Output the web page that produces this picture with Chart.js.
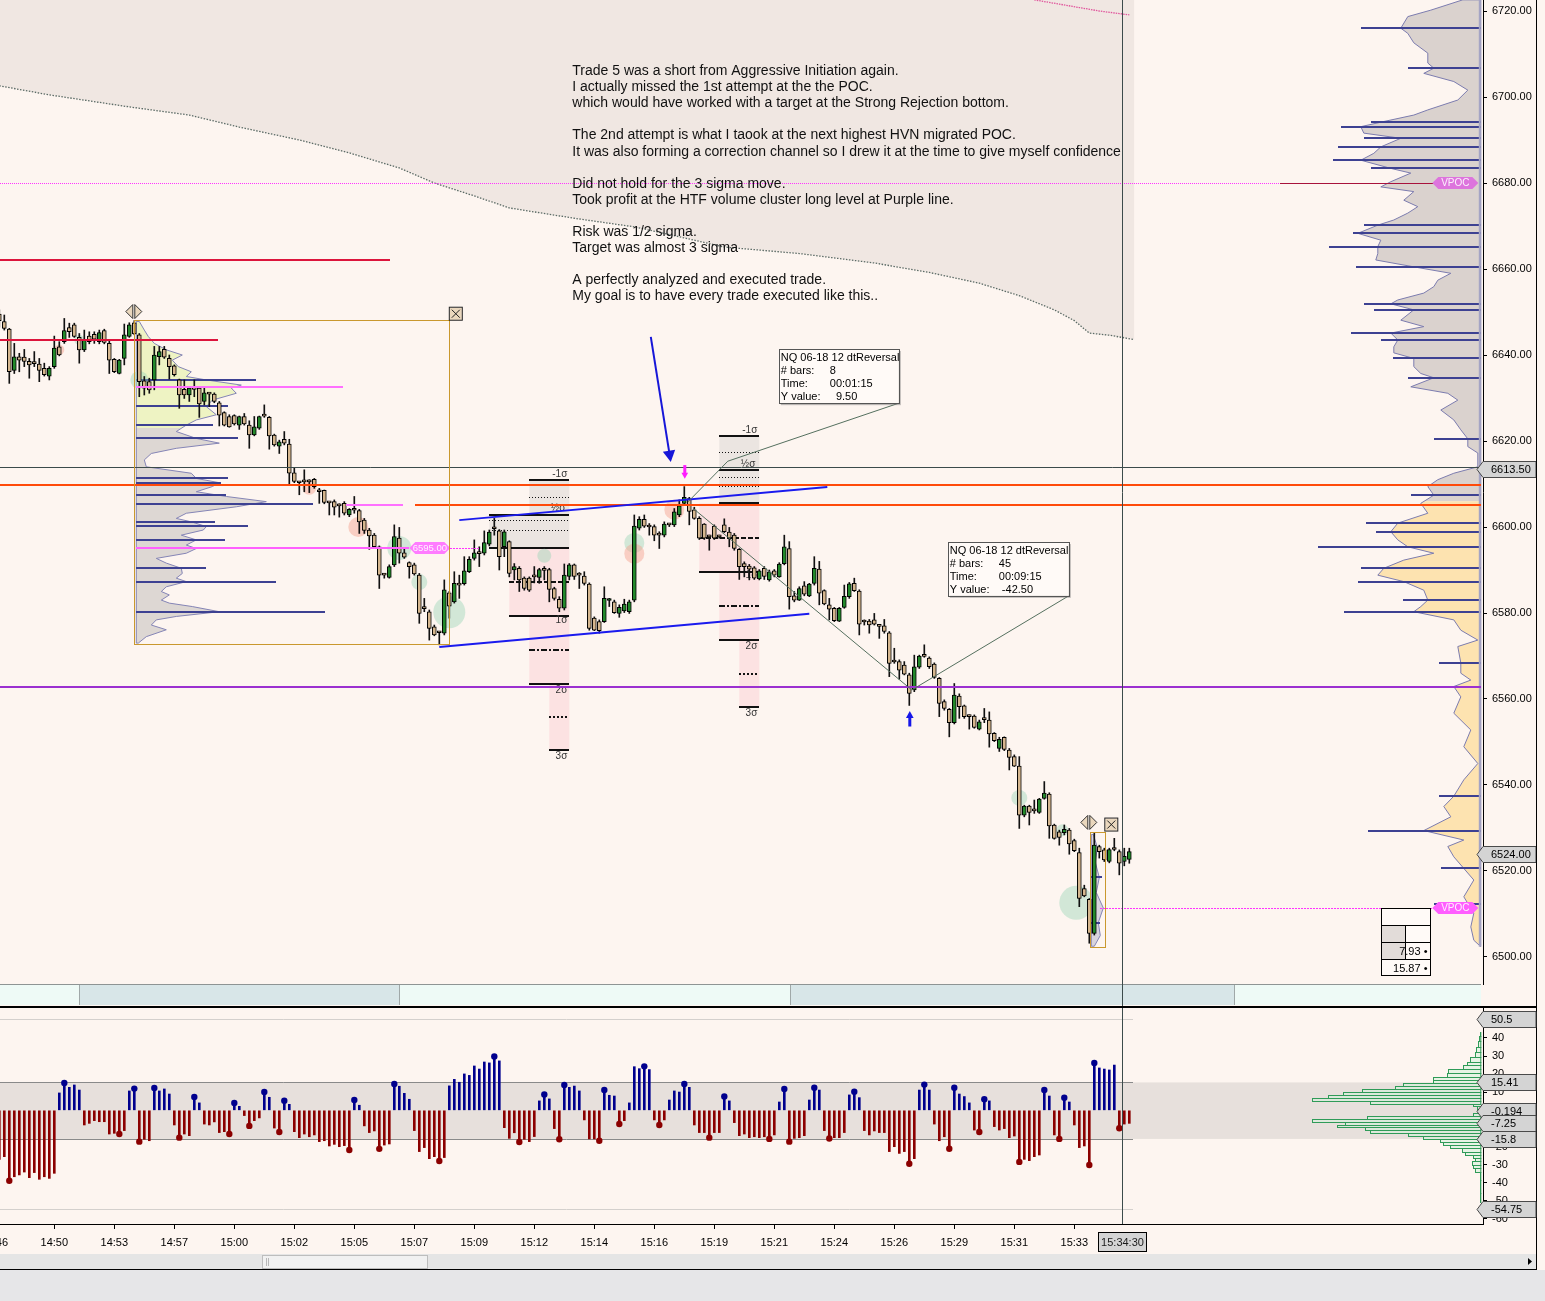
<!DOCTYPE html>
<html>
<head>
<meta charset="utf-8">
<title>NQ 06-18 12 dtReversal</title>
<script src="https://cdn.jsdelivr.net/npm/chart.js@4.4.1/dist/chart.umd.min.js"></script>
<style>
  html, body { margin: 0; padding: 0; background: #e6e6e8; overflow: hidden; }
  canvas { position: absolute; left: 0; display: block; }
  #price { top: 0; }
  #osc { top: 1007px; }
</style>
</head>
<body>
<canvas id="price" width="1545" height="1007"></canvas>
<canvas id="osc" width="1545" height="294"></canvas>
<script>
// candles, one per dtReversal bar
const opens = [6649.5,6647.8,6646.0,6636.4,6639.6,6639.5,6638.5,6638.1,6637.9,6636.9,6635.1,6637.3,6641.9,6643.1,6646.4,6647.0,6644.1,6641.2,6644.4,6644.8,
  6643.1,6645.7,6642.7,6639.0,6635.7,6639.2,6644.3,6647.5,6644.7,6634.0,6633.8,6634.2,6639.6,6641.3,6639.2,6637.5,6634.2,6632.0,6630.7,6632.5,
  6632.3,6629.2,6631.0,6630.9,6628.9,6626.6,6625.7,6625.9,6623.7,6625.7,6623.7,6621.4,6623.0,6625.9,6625.5,6621.4,6618.8,6620.4,6619.3,6612.6,
  6610.4,6610.6,6610.6,6611.1,6608.5,6608.5,6605.7,6605.9,6605.0,6605.5,6602.8,6604.0,6603.8,6601.6,6599.3,6598.1,6595.4,6588.9,6588.3,6591.2,
  6597.4,6594.0,6591.7,6591.2,6588.8,6581.1,6580.3,6576.8,6575.5,6575.3,6584.7,6582.6,6586.6,6586.8,6589.6,6592.7,6593.9,6593.9,6596.0,6599.7,
  6599.1,6595.4,6596.6,6590.0,6590.4,6588.1,6588.1,6588.5,6588.3,6590.0,6590.1,6585.7,6583.2,6581.1,6588.5,6591.2,6588.9,6588.6,6586.7,6578.8,
  6578.0,6578.0,6582.9,6582.6,6579.9,6580.5,6580.3,6583.0,6599.7,6601.8,6600.1,6600.1,6598.2,6598.1,6600.6,6600.5,6602.8,6605.5,6606.6,6604.0,
  6602.0,6600.7,6597.8,6600.2,6597.8,6600.5,6598.8,6598.1,6594.8,6591.5,6590.9,6590.5,6587.9,6590.4,6587.7,6589.8,6588.4,6591.5,6595.0,6584.0,
  6583.0,6586.3,6584.0,6586.9,6590.2,6585.2,6581.9,6581.1,6578.1,6581.3,6583.8,6586.9,6585.1,6578.0,6578.1,6578.4,6577.0,6577.0,6575.4,6568.7,
  6568.7,6567.9,6565.6,6562.1,6567.4,6570.2,6569.5,6568.1,6564.8,6559.4,6557.6,6554.5,6560.7,6558.4,6556.0,6556.0,6553.0,6555.3,6555.1,6552.0,
  6548.5,6551.1,6548.1,6546.6,6544.4,6533.0,6535.1,6534.1,6533.6,6536.9,6537.9,6530.7,6529.1,6528.9,6529.5,6527.1,6524.3,6515.9,6513.4,6505.5,
  6525.7,6524.9,6522.2,6525.1,6524.5,6522.2,6522.7];
const highs = [6650.5,6649.3,6646.2,6642.7,6640.4,6641.3,6639.2,6640.8,6639.2,6638.1,6637.3,6644.4,6643.1,6648.5,6647.4,6647.4,6645.0,6645.8,6645.4,6645.4,
  6645.8,6646.0,6643.3,6639.2,6639.0,6647.2,6647.5,6648.0,6645.0,6635.0,6634.6,6642.0,6642.0,6642.0,6640.0,6637.7,6634.4,6634.2,6632.6,6634.2,
  6632.5,6632.5,6631.2,6631.2,6629.2,6626.8,6626.1,6626.1,6625.8,6626.4,6624.7,6625.7,6625.8,6628.4,6625.7,6621.6,6620.2,6622.2,6620.4,6613.7,
  6610.6,6613.3,6611.0,6611.3,6609.0,6608.6,6605.9,6606.3,6605.4,6605.9,6604.3,6607.1,6604.1,6602.0,6599.7,6598.5,6595.6,6589.2,6591.2,6600.5,
  6599.9,6595.0,6591.9,6591.6,6589.2,6583.4,6580.7,6577.2,6575.7,6587.7,6585.0,6589.6,6588.8,6593.1,6593.1,6597.0,6595.4,6599.1,6599.3,6602.0,
  6599.4,6599.3,6596.8,6591.5,6590.8,6588.4,6588.4,6590.8,6590.4,6590.8,6590.4,6586.0,6583.8,6591.4,6591.5,6591.4,6589.4,6589.6,6587.0,6579.1,
  6578.4,6586.1,6583.4,6583.0,6581.9,6583.2,6583.0,6602.8,6602.4,6602.8,6600.8,6600.5,6598.9,6601.2,6600.8,6604.3,6606.3,6609.4,6606.9,6604.6,
  6602.4,6600.8,6598.1,6600.5,6598.1,6601.9,6599.9,6598.5,6595.0,6591.9,6591.3,6590.8,6590.1,6590.8,6590.0,6590.1,6591.7,6598.1,6596.6,6585.0,
  6586.1,6587.3,6586.9,6593.1,6592.0,6585.4,6583.4,6581.3,6581.3,6586.5,6587.1,6588.1,6585.4,6578.4,6578.5,6579.9,6577.2,6578.5,6575.7,6571.8,
  6569.1,6568.7,6566.0,6570.2,6570.2,6572.6,6569.8,6568.4,6565.0,6559.8,6557.8,6563.6,6561.2,6558.6,6556.3,6556.3,6555.1,6557.8,6557.0,6552.2,
  6551.1,6551.2,6548.5,6547.0,6546.6,6535.3,6535.3,6536.5,6536.9,6540.8,6538.2,6530.9,6529.5,6530.7,6529.9,6527.4,6525.3,6516.7,6513.6,6528.8,
  6526.0,6525.3,6525.3,6527.6,6524.9,6525.3,6525.3];
const lows = [6646.5,6645.8,6633.4,6635.7,6636.1,6637.3,6634.6,6637.3,6633.8,6635.1,6634.2,6636.9,6639.8,6642.7,6644.1,6644.1,6638.1,6640.8,6642.6,6642.7,
  6642.6,6642.6,6635.7,6635.9,6635.6,6637.7,6644.1,6644.7,6630.3,6630.7,6631.1,6631.9,6637.7,6639.2,6634.4,6635.1,6627.6,6629.9,6629.2,6630.3,
  6625.5,6628.4,6628.0,6628.9,6623.5,6623.5,6623.2,6623.7,6622.7,6623.7,6618.3,6621.2,6622.7,6625.5,6618.1,6618.8,6617.1,6619.1,6609.8,6610.3,
  6607.5,6608.2,6608.0,6609.0,6605.5,6605.4,6602.8,6602.8,6602.3,6602.8,6602.4,6603.2,6598.5,6598.5,6594.8,6595.3,6585.7,6588.1,6588.1,6590.8,
  6591.6,6592.7,6588.1,6588.8,6577.6,6580.3,6573.7,6574.7,6572.6,6574.9,6578.8,6582.3,6583.4,6586.5,6589.4,6592.3,6590.8,6593.5,6595.6,6598.1,
  6590.0,6593.1,6588.4,6587.7,6585.0,6585.3,6585.0,6587.0,6586.9,6587.7,6582.6,6583.0,6580.3,6580.7,6587.7,6587.8,6585.7,6586.5,6576.0,6575.9,
  6575.3,6577.8,6581.5,6579.9,6579.0,6580.1,6579.9,6582.6,6599.3,6599.9,6598.1,6596.8,6595.0,6597.7,6600.1,6600.1,6602.4,6605.3,6600.5,6601.8,
  6597.1,6597.1,6594.6,6597.1,6597.4,6598.7,6595.4,6594.6,6587.8,6588.4,6587.7,6587.8,6587.7,6587.8,6587.4,6588.4,6588.3,6591.2,6580.9,6582.6,
  6582.9,6584.0,6583.8,6586.5,6581.9,6581.9,6578.4,6578.0,6578.0,6581.1,6583.4,6585.0,6574.9,6577.2,6575.3,6577.2,6574.1,6575.3,6565.2,6568.3,
  6564.6,6565.6,6558.5,6561.7,6567.1,6569.7,6567.1,6564.8,6555.9,6557.4,6551.2,6554.2,6555.5,6555.5,6553.0,6553.2,6552.8,6554.5,6548.8,6550.1,
  6547.8,6548.0,6543.5,6544.3,6529.9,6532.6,6530.7,6533.4,6533.4,6536.7,6527.6,6527.4,6526.0,6528.4,6523.9,6524.5,6511.7,6514.0,6503.2,6505.1,
  6523.0,6522.2,6521.9,6524.7,6519.1,6521.2,6521.8];
const closes = [6648.0,6646.2,6636.1,6639.6,6638.8,6638.5,6637.7,6638.0,6636.4,6635.4,6636.9,6641.6,6640.0,6645.7,6645.4,6644.3,6641.2,6643.5,6643.1,6643.7,
  6645.2,6642.9,6638.8,6636.1,6638.8,6644.7,6647.0,6644.9,6633.8,6632.3,6631.9,6640.0,6640.8,6639.5,6637.3,6635.4,6630.7,6630.7,6632.3,6632.0,
  6628.6,6631.2,6630.9,6629.2,6626.0,6623.7,6623.3,6624.0,6625.7,6624.0,6621.4,6623.3,6625.7,6625.8,6621.2,6619.1,6619.8,6619.5,6612.5,6610.6,
  6610.3,6610.5,6610.5,6609.4,6608.2,6605.7,6605.6,6604.6,6604.9,6603.2,6604.1,6603.9,6601.2,6599.2,6597.9,6595.4,6588.8,6588.8,6590.8,6597.8,
  6593.9,6593.0,6590.8,6589.1,6579.9,6581.0,6576.4,6574.9,6575.4,6585.4,6581.6,6586.9,6586.5,6589.8,6592.5,6594.0,6593.8,6596.4,6598.8,6599.6,
  6593.1,6598.9,6589.2,6590.8,6587.7,6585.7,6585.3,6588.4,6590.1,6589.9,6585.5,6583.4,6581.1,6588.8,6591.2,6588.5,6588.8,6586.9,6576.4,6576.0,
  6575.9,6583.4,6583.0,6580.1,6581.3,6582.1,6582.6,6600.2,6601.8,6600.2,6600.0,6598.1,6598.1,6600.7,6600.5,6603.5,6604.9,6606.9,6603.6,6602.0,
  6597.4,6597.4,6597.7,6597.4,6597.7,6598.9,6597.4,6595.0,6590.8,6590.8,6590.2,6588.1,6589.8,6588.5,6589.6,6588.8,6591.4,6595.4,6583.8,6583.0,
  6585.7,6584.4,6586.7,6590.4,6584.6,6582.1,6580.9,6578.2,6581.1,6583.9,6586.8,6585.2,6577.4,6577.9,6577.2,6577.4,6576.9,6575.7,6568.3,6568.6,
  6566.7,6565.8,6561.3,6567.5,6570.0,6569.9,6567.5,6565.0,6559.0,6557.8,6554.5,6560.9,6558.2,6555.9,6555.9,6553.4,6554.7,6555.2,6551.9,6550.3,
  6550.6,6548.3,6546.4,6544.4,6533.0,6535.1,6533.6,6534.0,6536.7,6538.1,6530.5,6527.6,6527.8,6529.7,6526.3,6524.7,6513.6,6514.2,6505.5,6526.0,
  6524.5,6522.6,6525.0,6525.0,6521.8,6523.4,6524.5];

// oscillator (delta) per bar, and the bars that carry a dot
const oscValues = [-27.1,-25.6,-38.9,-36.7,-35.7,-34.1,-37.2,-34.4,-38.1,-36.7,-37.6,-34.8,
  9.6,15.1,12.7,14.0,11.2,-8.1,-7.2,-5.7,-6.3,-6.3,-13.1,-12.7,
  -13.1,-11.2,10.7,12.0,-17.3,-16.0,-16.8,12.3,10.7,11.8,9.0,-8.1,
  -15.1,-13.1,-14.0,7.4,4.1,-7.6,-8.1,-6.4,-12.3,-11.8,-13.1,4.1,
  2.2,-2.9,-8.6,-5.7,-4.2,10.1,7.2,-9.8,-12.0,5.3,3.3,-11.8,
  -15.1,-13.1,-14.6,-13.6,-17.3,-16.8,-19.7,-18.8,-20.1,-19.5,-21.9,5.7,
  2.8,-8.6,-12.3,-11.4,-21.3,-19.2,-18.6,14.5,13.3,9.4,6.1,-11.2,
  -22.8,-20.6,-26.7,-25.6,-28.0,-26.1,13.5,17.1,15.5,20.1,19.3,24.5,
  22.8,26.7,26.2,29.7,27.3,-9.6,-15.5,-12.4,-17.5,-16.0,-17.3,-14.5,
  5.2,8.7,6.3,-10.1,-16.0,
  14.0,12.7,13.4,10.7,-5.3,-15.8,-15.8,-16.8,11.2,8.3,7.9,-7.6,
  -5.7,4.1,24.1,23.0,24.3,22.5,-5.3,-8.1,-5.3,5.7,10.7,10.1,
  14.5,12.7,-8.1,-12.3,-12.3,-15.1,-12.3,-12.3,7.6,5.2,-6.8,-14.0,
  -13.1,-15.1,-14.6,-15.1,-14.6,-15.8,-13.6,4.6,11.8,-17.3,-15.5,-15.1,
  -14.0,5.7,12.5,11.2,-11.2,-15.6,-15.1,-15.1,-12.3,8.5,10.3,7.0,
  -11.2,-13.6,-11.4,-12.3,-12.3,-22.8,-20.1,-23.8,-22.8,-29.5,-26.7,11.2,
  14.2,11.2,-7.6,-16.8,-14.6,-21.2,12.5,9.0,7.6,4.1,-10.9,-12.0,
  6.1,5.2,-9.0,-10.9,-10.1,-15.1,-14.2,-28.5,-27.1,-27.8,-25.6,-24.7,
  11.2,7.9,-13.6,-15.8,7.0,4.6,-8.1,-20.6,-19.7,-30.2,26.2,23.4,
  22.8,22.3,25.0,-9.9,-7.6,-7.2];
const oscDotBars = [2,13,24,27,28,31,36,39,46,47,50,53,56,57,70,71,76,79,88,99,104,109,112,113,120,121,124,129,132,137,
  142,145,154,157,158,163,166,171,182,185,190,191,196,197,204,209,212,213,218,219,224];

// time axis
const timeLabels = ['14:46','14:50','14:53','14:57','15:00','15:02','15:05','15:07','15:09','15:12','15:14','15:16','15:19','15:21','15:24','15:26','15:29','15:31','15:33'];
const timeTickBars = [-1,11,23,35,47,59,71,83,95,107,119,131,143,155,167,179,191,203,215];
const lastTimeLabel = '15:34:30';
const sessionBlocks = [[16, 80], [158.1, 247]];

// upper deviation band (shaded above) and the short pink band at the top
const bandBars = [0,10,26,38,48,60,70,80,87,95,102,115,127,136,145,160,175,186,196,204,211,215,218,222,227];
const bandPrices = [6702.6,6700.5,6697.7,6695.8,6693.0,6690.0,6687.0,6683.5,6680.0,6677.0,6674.2,6671.8,6669.8,6667.5,6665.1,6663.6,6661.4,6659.2,6656.7,6653.8,6650.5,6648.0,6645.1,6644.6,6643.6];
const topBandBars = [207,212,216,220,224,226];
const topBandPrices = [6722.6,6721.6,6720.8,6720.0,6719.4,6719.1];

// levels
const vpocHigh = 6680.0;
const rejectionLevels = [6662.1, 6643.5];
const lastLevel = 6613.9;
const orangeLevels = [6609.8, 6605.1];
const purpleLevel = 6562.8;
const vpocLow = 6511.4;
const pocLeft = 6595.1;
const pocLeftLabel = '6595.00';

// left (session) volume profile
const lpPrices = [6647.8,6645.8,6644.3,6642.7,6641.2,6640.0,6638.8,6637.3,6636.1,6635.0,6634.2,6633.0,6632.3,6631.1,6629.5,6628.0,6626.1,6624.9,6623.7,6622.2,
  6620.6,6619.5,6618.3,6617.1,6615.6,6614.0,6612.5,6611.3,6610.3,6609.4,6608.2,6607.1,6605.9,6604.7,6603.2,6602.0,6601.2,6600.1,6599.3,6598.1,
  6597.0,6595.8,6595.0,6593.9,6592.7,6591.6,6590.4,6589.2,6588.1,6587.3,6586.1,6585.0,6584.2,6583.0,6582.3,6581.5,6580.3,6579.2,6578.4,6577.2,
  6576.1,6574.5,6573.0];
const lpWidths = [0.6,1.6,2.4,3.6,6,9.2,7.2,8.4,11,10,14,21,19,20,15.2,14,16,12,10,8,
  12,16.6,8,3,1.6,2,11,12,16.6,15.2,12,18,26,20,10,8,11,14,13.4,9,
  12,10,12,10,4,6,9,9.2,8,10,6,5,6.6,5,6.6,11.2,16.6,8,4,3,
  6,2,0.4];
const lpHvnPrices = [6634.2,6632.5,6628.1,6623.7,6620.6,6611.3,6610.3,6607.5,6605.4,6601.2,6600.2,6597.0,6590.4,6587.3,6580.3];
const lpHvnWidths = [24,31,18.3,15.3,20.3,18.3,17,18,35.3,15.7,22.3,17.7,13.9,27.9,37.7];
const lpValueHigh = 6646.0, lpValueLow = 6623.0;

// right (composite) volume profile
const rpPrices = [6722.6,6720.2,6718.7,6716.0,6714.8,6712.6,6710.2,6707.9,6706.7,6705.5,
  6703.6,6701.6,6699.3,6697.0,6695.8,6694.3,6693.1,6691.6,6690.4,6688.4,
  6686.9,6685.3,6683.4,6682.3,6680.3,6679.1,6678.0,6676.0,6674.5,6673.0,
  6671.4,6670.2,6668.3,6666.7,6665.2,6663.6,6662.1,6660.5,6659.0,6657.4,
  6655.9,6654.4,6652.8,6651.9,6650.5,6648.1,6646.6,6645.1,6643.5,6641.9,
  6640.5,6639.2,6637.3,6635.7,6634.7,6632.6,6631.1,6629.5,6627.2,6624.9,
  6622.6,6620.5,6618.7,6617.2,6614.0,6612.5,6611.0,6609.4,6607.4,6605.5,
  6603.2,6600.9,6598.9,6597.0,6595.4,6593.9,6592.3,6590.4,6588.8,6587.3,
  6585.3,6583.0,6581.5,6580.3,6578.4,6576.0,6573.7,6572.2,6568.4,6566.0,
  6564.4,6562.9,6560.5,6556.7,6552.8,6548.9,6545.0,6541.2,6537.4,6535.0,
  6532.6,6529.4,6527.2,6525.7,6523.3,6520.6,6517.9,6514.0,6510.2,6507.0,
  6503.9,6502.4];
const rpWidths = [3.6,10,14.6,16,14.6,13.4,10.6,10.6,9.4,11.4,
  5.4,2.6,4.6,10.6,13.4,19.4,24,23.4,16,20,
  21.4,24,18,14,18,20,13.4,15.4,12.6,14.6,
  17.4,20.6,24.6,20,20.6,20.6,21,13.4,6,8.6,
  9.4,11.4,16.6,18,13.4,16,11.4,18,16.6,17.4,
  17.4,13.4,13.4,12,9.4,14,6.6,4.6,8,5.4,
  4,2.6,2.6,0.6,0.6,5.4,8.6,10.6,9.4,12,
  10.6,16.6,18,16.6,14.6,9.4,15.4,19.4,20.6,15.4,
  11.4,10.6,12,13.4,5.4,4,0.6,4.6,4,4,
  2,5.4,4,5.4,2,3.4,0.6,3.4,5.4,7.4,
  6,11.4,3.4,6.6,5.4,3.4,1.4,3.4,1.4,2,
  1.4,0];
const rpHvnPrices = [6716.0,6706.8,6694.3,6693.1,6690.4,6688.4,6685.3,6683.4,6670.2,6668.3,
  6665.2,6660.5,6651.9,6650.5,6645.1,6643.5,6639.2,6634.7,6620.5,6607.4,
  6600.9,6598.9,6595.4,6590.4,6587.3,6583.0,6580.3,6568.4,6537.4,6529.4,
  6520.6,6512.3];
const rpHvnWidths = [24,14.6,22,28,23.4,28.6,29.6,22,23.4,25.6,
  30.4,25,23.4,21.4,26,20,17.6,14.6,9.4,14,
  23,21,32.6,24,24.6,15.6,27.4,8.4,8.4,22.6,
  8,9.4];
const rpValueSplit = 6606.0;

// small profile on the last bars
const endProfPrices = [6528.5,6525.5,6522.0,6518.5,6515.0,6511.4,6508.0,6505.0,6502.5];
const endProfWidths = [0.4,1.2,0.8,1.6,1.0,2.4,1.4,1.8,0.6];

// oscillator distribution
const opLevels = [42.5,39.8,37.0,33.3,30.6,27.8,26.0,24.1,21.3,19.5,17.7,15.8,14.0,12.7,11.2,9.4,7.9,6.0,4.2,2.9,1.6,-0.8,
  -2.6,-3.9,-5.7,-7.2,-8.7,-9.9,-11.8,-13.6,-15.0,-16.4,-18.3,-20.1,-21.9,-23.8,-25.6,-27.5,-28.9,-31.1,-33.0,-34.8,-42.2,-49.6];
const opWidths = [0.2,0.4,0.6,1,1.2,2.2,2.8,3.6,6.6,6.8,9.6,9.6,15.6,17.2,23.8,27.6,30.6,33.8,22.2,1.6,0.8,0.2,
  1.6,22.8,33.8,27.2,28.8,23.2,22.2,14.6,11.6,8.2,7.6,6.2,3.8,3.2,1.6,1.2,1.8,1.6,1.2,0.2,0.2,0.2];
const oscBandTop = 15.41, oscBandBottom = -15.8;
const oscTags = [50.5, 15.41, -0.194, -7.25, -15.8, -54.75];
const oscTagLabels = ['50.5', '15.41', '-0.194', '-7.25', '-15.8', '-54.75'];

// sigma ladders: -1, -3/4, 1/2, 1/4, 1/8, 0, -1/2, 1, 1.5, 2, 2.5, 3
const sigmaA = [6610.9,6607.0,6602.9,6601.6,6599.3,6595.2,6587.3,6579.3,6571.4,6563.5,6555.7,6548.1];
const sigmaB = [6621.2,6617.4,6613.3,6611.6,6609.5,6605.5,6597.4,6589.6,6581.7,6573.7,6565.8,6558.1];

// drawings
const channelTop = [[92, 6601.6], [165.6, 6609.3]];
const channelBottom = [[88, 6572.1], [162, 6579.8]];
const entryArrow = [[130.3, 6644.2], [134.3, 6615.1]];
const shortMark = [[137.1, 6614.4], [137.1, 6611.2]];
const exitMark = [[182.1, 6553.6], [182.1, 6557.2]];
const reversal1 = [[137.7, 6605.8], [145.7, 6615.3], [179.9, 6628.8]];
const reversal1Box = [[155.9, 6641.4], [179.9, 6628.8]];
const reversal1Text = [['NQ 06-18 12 dtReversal', ''], ['# bars:', '8'], ['Time:', '00:01:15'], ['Y value:', '  9.50']];
const reversal2 = [[138.7, 6604.4], [182.5, 6562.1], [213.9, 6584.0]];
const reversal2Box = [[189.7, 6596.5], [213.9, 6584.0]];
const reversal2Text = [['NQ 06-18 12 dtReversal', ''], ['# bars:', '45'], ['Time:', '00:09:15'], ['Y value:', ' -42.50']];
const greenBubbles = [[28, 6634.2, 9], [16, 6643.5, 5], [80, 6595.1, 12], [84, 6587.2, 8], [90, 6580.2, 16], [109, 6593.3, 7], [127, 6596.3, 10], [204, 6537.0, 8], [212.6, 6529.5, 6], [215.4, 6512.6, 17]];
const redBubbles = [[12, 6641.2, 5], [62, 6609.1, 7], [71.8, 6600.0, 10], [127, 6593.8, 10], [135, 6604.0, 10]];
const priceTags = [6613.5, 6524.0];
const cursorBar = 224.5;
const statValues = ['7.93 \u2022', '15.87 \u2022'];

const notes = [
  'Trade 5 was a short from Aggressive Initiation again.',
  'I actually missed the 1st attempt at the the POC.',
  'which would have worked with a target at the Strong Rejection bottom.',
  '',
  'The 2nd attempt is what I taook at the next highest HVN migrated POC.',
  'It was also forming a correction channel so I drew it at the time to give myself confidence',
  '',
  'Did not hold for the 3 sigma move.',
  'Took profit at the HTF volume cluster long level at Purple line.',
  '',
  'Risk was 1/2 sigma.',
  'Target was almost 3 sigma',
  '',
  'A perfectly analyzed and executed trade.',
  'My goal is to have every trade executed like this..'
];
const notesAnchor = [114.6, 6706.0];

// ---- drawing setup ----
const BG = '#fdf5f0';
const UP = '#23892b', DOWN = '#d5b68e';
const BLUE = '#00008e', RED = '#8b0000';
const X_MIN = 0.14, X_MAX = 296.74, RIGHT_EDGE = 296.3;
const P_MIN = 6493.72, P_MAX = 6722.56;
const O_MIN = -62.8, O_MAX = 56.52;
const FONT = '"Liberation Sans", Arial, sans-serif';

Chart.defaults.font.family = FONT;
Chart.defaults.font.size = 11;
Chart.defaults.color = '#000';

const bars = opens.map((_, k) => k);
const px = (c, k) => c.scales.x.getPixelForValue(k);
const py = (c, v) => c.scales.y.getPixelForValue(v);

function seg(ctx, x0, y0, x1, y1, color, width, dash) {
  ctx.save();
  ctx.strokeStyle = color;
  ctx.lineWidth = width;
  ctx.setLineDash(dash || []);
  ctx.beginPath();
  ctx.moveTo(x0, y0);
  ctx.lineTo(x1, y1);
  ctx.stroke();
  ctx.restore();
}

// horizontal level between two bars (snapped to whole pixels)
function level(ctx, c, p, k0, k1, color, width, dash) {
  let y = Math.round(py(c, p));
  if (width % 2 === 1) y += 0.5;
  seg(ctx, Math.max(0, Math.round(px(c, k0))), y, Math.round(px(c, k1)), y, color, width, dash);
}

function arrow(ctx, x0, y0, x1, y1, color, width, head) {
  const a = Math.atan2(y1 - y0, x1 - x0);
  seg(ctx, x0, y0, x1 - Math.cos(a) * head * 0.7, y1 - Math.sin(a) * head * 0.7, color, width);
  ctx.save();
  ctx.fillStyle = color;
  ctx.beginPath();
  ctx.moveTo(x1, y1);
  ctx.lineTo(x1 - head * Math.cos(a - 0.5), y1 - head * Math.sin(a - 0.5));
  ctx.lineTo(x1 - head * Math.cos(a + 0.5), y1 - head * Math.sin(a + 0.5));
  ctx.closePath();
  ctx.fill();
  ctx.restore();
}

// grey tag with a pointer on the axis
function axisTag(ctx, y, text) {
  y = Math.round(y) + 0.5;
  ctx.save();
  ctx.beginPath();
  ctx.moveTo(1477, y);
  ctx.lineTo(1483, y - 8);
  ctx.lineTo(1536, y - 8);
  ctx.lineTo(1536, y + 8);
  ctx.lineTo(1483, y + 8);
  ctx.closePath();
  ctx.fillStyle = '#d4d4d4';
  ctx.fill();
  ctx.strokeStyle = '#4a4a4a';
  ctx.lineWidth = 1;
  ctx.stroke();
  ctx.fillStyle = '#000';
  ctx.font = '11px ' + FONT;
  ctx.textAlign = 'left';
  ctx.textBaseline = 'middle';
  ctx.fillText(text, 1491, y + 0.5);
  ctx.restore();
}

function pinkPill(ctx, x0, x1, y, text, fill, size) {
  ctx.save();
  ctx.fillStyle = fill;
  ctx.beginPath();
  ctx.moveTo(x0, y);
  ctx.lineTo(x0 + 6, y - 6);
  ctx.lineTo(x1 - 6, y - 6);
  ctx.lineTo(x1, y);
  ctx.lineTo(x1 - 6, y + 6);
  ctx.lineTo(x0 + 6, y + 6);
  ctx.closePath();
  ctx.fill();
  ctx.fillStyle = 'rgba(255,255,255,0.9)';
  ctx.font = (size || 10) + 'px ' + FONT;
  ctx.textAlign = 'center';
  ctx.textBaseline = 'middle';
  ctx.fillText(text, (x0 + x1) / 2, y + 0.5);
  ctx.restore();
}

function diamondMark(ctx, x, y) {
  ctx.save();
  ctx.fillStyle = '#ead7bd';
  ctx.strokeStyle = '#333';
  ctx.lineWidth = 1;
  [[-1, -8], [1, 8]].forEach(([s, t]) => {
    ctx.beginPath();
    ctx.moveTo(x + s, y - 7);
    ctx.lineTo(x + t, y);
    ctx.lineTo(x + s, y + 7);
    ctx.closePath();
    ctx.fill();
    ctx.stroke();
  });
  ctx.restore();
}

function closeBox(ctx, x, y) {
  ctx.save();
  ctx.fillStyle = '#ead7bd';
  ctx.strokeStyle = '#222';
  ctx.lineWidth = 1;
  ctx.fillRect(x - 6, y - 6, 12, 12);
  ctx.strokeRect(x - 6.5, y - 6.5, 13, 13);
  ctx.beginPath();
  ctx.moveTo(x - 4, y - 4); ctx.lineTo(x + 4, y + 4);
  ctx.moveTo(x + 4, y - 4); ctx.lineTo(x - 4, y + 4);
  ctx.stroke();
  ctx.restore();
}

// profile polygon from a base bar, growing left or right
function profilePath(c, prices, widths, base, dir) {
  const path = new Path2D();
  const xb = px(c, base);
  path.moveTo(xb, py(c, prices[0]));
  prices.forEach((p, i) => path.lineTo(px(c, base + dir * widths[i]), py(c, p)));
  path.lineTo(xb, py(c, prices[prices.length - 1]));
  path.closePath();
  return path;
}

function fillSplit(ctx, c, path, split, colorAbove, colorBelow) {
  const ys = py(c, split);
  ctx.save();
  ctx.beginPath(); ctx.rect(0, 0, c.width, ys); ctx.clip();
  ctx.fillStyle = colorAbove; ctx.fill(path);
  ctx.restore();
  ctx.save();
  ctx.beginPath(); ctx.rect(0, ys, c.width, c.height); ctx.clip();
  ctx.fillStyle = colorBelow; ctx.fill(path);
  ctx.restore();
}

function sigmaLadder(ctx, c, lv, starts, end) {
  const xe = px(c, end);
  const box = (k, p0, p1, color) => {
    ctx.fillStyle = color;
    const y0 = py(c, p0), y1 = py(c, p1);
    ctx.fillRect(px(c, k), y0, xe - px(c, k), y1 - y0);
  };
  box(starts[0], lv[0], lv[2], '#ebe5e1');
  box(starts[2], lv[2], lv[5], '#ebe5e1');
  box(starts[6], lv[5], lv[7], '#fce2e2');
  box(starts[8], lv[7], lv[9], '#fce2e2');
  box(starts[10], lv[9], lv[11], '#fce2e2');
  const dashes = [[], [1, 2], [], [1, 2], [1, 2], [], [5, 2], [], [6, 2, 2, 2], [], [2, 2], []];
  const widths = [2, 1, 2, 1, 1, 2, 2, 2, 2, 2, 2, 2];
  lv.forEach((p, i) => level(ctx, c, p, starts[i], end, '#111', widths[i], dashes[i]));
  ctx.fillStyle = '#333';
  ctx.font = '10px ' + FONT;
  ctx.textAlign = 'right';
  ctx.textBaseline = 'bottom';
  ctx.fillText('-1\u03c3', xe - 2, py(c, lv[0]) - 1);
  ctx.fillText('\u00bd\u03c3', xe - 4, py(c, lv[2]) - 1);
  ctx.textBaseline = 'top';
  ctx.fillText('1\u03c3', xe - 2, py(c, lv[7]) - 1);
  ctx.fillText('2\u03c3', xe - 2, py(c, lv[9]) + 1);
  ctx.fillText('3\u03c3', xe - 2, py(c, lv[11]) + 1);
}

function infoBox(ctx, c, corners, rows) {
  const x0 = px(c, corners[0][0]), y0 = py(c, corners[0][1]);
  const x1 = px(c, corners[1][0]), y1 = py(c, corners[1][1]);
  ctx.save();
  ctx.fillStyle = 'rgba(120,120,120,0.5)';
  ctx.fillRect(x0 + 2, y0 + 2, x1 - x0, y1 - y0);
  ctx.fillStyle = '#fffaf7';
  ctx.fillRect(x0, y0, x1 - x0, y1 - y0);
  ctx.strokeStyle = '#555';
  ctx.lineWidth = 1;
  ctx.strokeRect(Math.round(x0) + 0.5, Math.round(y0) + 0.5, Math.round(x1 - x0), Math.round(y1 - y0));
  ctx.fillStyle = '#000';
  ctx.font = '11px ' + FONT;
  ctx.textAlign = 'left';
  ctx.textBaseline = 'middle';
  rows.forEach(([label, value], i) => {
    ctx.fillText(label, x0 + 2, y0 + 9 + i * 13);
    if (value) ctx.fillText(value, x0 + 51, y0 + 9 + i * 13);
  });
  ctx.restore();
}

function polyline(ctx, c, pts, color, width) {
  ctx.save();
  ctx.strokeStyle = color;
  ctx.lineWidth = width;
  ctx.beginPath();
  pts.forEach(([k, p], i) => (i ? ctx.lineTo(px(c, k), py(c, p)) : ctx.moveTo(px(c, k), py(c, p))));
  ctx.stroke();
  ctx.restore();
}

// ---- price panel decorations ----
const priceDecor = {
  id: 'priceDecor',
  beforeDraw(c) {
    const ctx = c.ctx, a = c.chartArea;
    ctx.save();
    ctx.fillStyle = BG;
    ctx.fillRect(0, 0, c.width, c.height);
    const t = a.bottom, h = c.height - a.bottom - 2;
    ctx.fillStyle = '#eefaf6';
    ctx.fillRect(0, t, a.right - 2, h);
    sessionBlocks.forEach(([k0, k1]) => {
      const x0 = Math.round(px(c, k0)) + 0.5, x1 = Math.round(px(c, k1)) + 0.5;
      ctx.fillStyle = '#d8e6e8';
      ctx.fillRect(x0, t, x1 - x0, h);
      ctx.fillStyle = '#a0a8a8';
      ctx.fillRect(x0 - 0.5, t, 1, h);
      ctx.fillRect(x1 - 0.5, t, 1, h);
    });
    ctx.fillStyle = '#8e9494';
    ctx.fillRect(0, t, a.right - 2, 1);
    ctx.fillStyle = '#000';
    ctx.fillRect(0, c.height - 1, 1537, 1);
    ctx.restore();
  },
  beforeDatasetsDraw(c) {
    const ctx = c.ctx, a = c.chartArea;
    ctx.save();
    ctx.beginPath(); ctx.rect(a.left, a.top, a.right - a.left, a.bottom - a.top); ctx.clip();

    // right composite profile
    const rp = profilePath(c, rpPrices, rpWidths, RIGHT_EDGE, -1);
    fillSplit(ctx, c, rp, rpValueSplit, '#dad2ce', '#fde3b0');
    ctx.strokeStyle = '#7c7caf';
    ctx.lineWidth = 1;
    ctx.stroke(rp);
    rpHvnPrices.forEach((p, i) => level(ctx, c, p, RIGHT_EDGE - rpHvnWidths[i], RIGHT_EDGE, '#3d4192', 2));
    seg(ctx, px(c, RIGHT_EDGE) - 1, 0, px(c, RIGHT_EDGE) - 1, py(c, 6502.4), '#a4a4c4', 2);

    // left session profile
    const lp = profilePath(c, lpPrices, lpWidths, 27.4, 1);
    fillSplit(ctx, c, lp, lpValueLow, '#eef3c3', '#ddd7d3');
    ctx.strokeStyle = '#8585b6';
    ctx.stroke(lp);
    lpHvnPrices.forEach((p, i) => level(ctx, c, p, 27.4, 27.4 + lpHvnWidths[i], '#3d4192', 2));

    // sigma ladders
    sigmaLadder(ctx, c, sigmaA, [106, 106, 98, 98, 98, 98, 102, 102, 106, 106, 110, 110], 114);
    sigmaLadder(ctx, c, sigmaB, [144, 144, 144, 144, 144, 144, 140, 140, 144, 144, 148, 148], 152);

    // absorption bubbles
    greenBubbles.forEach(([k, p, r]) => {
      ctx.fillStyle = 'rgba(150,212,180,0.42)';
      ctx.beginPath(); ctx.arc(px(c, k), py(c, p), r, 0, Math.PI * 2); ctx.fill();
    });
    redBubbles.forEach(([k, p, r]) => {
      ctx.fillStyle = 'rgba(243,160,140,0.45)';
      ctx.beginPath(); ctx.arc(px(c, k), py(c, p), r, 0, Math.PI * 2); ctx.fill();
    });

    // small profile on the last bars
    const ep = profilePath(c, endProfPrices, endProfWidths, 218.4, 1);
    ctx.fillStyle = '#d8d4dc';
    ctx.fill(ep);
    ctx.strokeStyle = '#8585b6';
    ctx.stroke(ep);
    level(ctx, c, 6518.5, 218.4, 220.6, '#3d4192', 2);
    level(ctx, c, 6508.0, 218.4, 220.2, '#3d4192', 2);
    ctx.restore();
  },
  afterDatasetsDraw(c) {
    const ctx = c.ctx, a = c.chartArea;
    ctx.save();
    ctx.beginPath(); ctx.rect(a.left, a.top, a.right - a.left, a.bottom - a.top); ctx.clip();

    // levels
    level(ctx, c, vpocHigh, 0, 256.1, '#ff33ff', 1, [1, 1]);
    level(ctx, c, vpocHigh, 256.1, 288, '#a8123c', 1);
    level(ctx, c, rejectionLevels[0], 0, 78.2, '#dc143c', 2);
    level(ctx, c, rejectionLevels[1], 0, 43.7, '#dc143c', 2);
    level(ctx, c, lastLevel, 0, RIGHT_EDGE + 0.4, '#3b4a4a', 1);
    level(ctx, c, orangeLevels[0], 0, RIGHT_EDGE, '#ff4a0a', 2);
    level(ctx, c, orangeLevels[1], 83.1, RIGHT_EDGE, '#ff4a0a', 2);
    level(ctx, c, orangeLevels[1], 69.4, 80.7, '#ff70ff', 2);
    level(ctx, c, 6632.5, 27.4, 68.7, '#ff70ff', 2);
    level(ctx, c, pocLeft, 27.4, 82, '#ff60ff', 2);
    level(ctx, c, pocLeft, 90.2, 96.2, '#ff33ff', 1, [2, 1]);
    level(ctx, c, purpleLevel, 0, RIGHT_EDGE, '#9b30d0', 2);
    level(ctx, c, vpocLow, 220.2, 287, '#ff33ff', 1, [2, 1]);
    pinkPill(ctx, px(c, 82), px(c, 90.2), py(c, pocLeft), pocLeftLabel, '#ff7cff', 9.5);
    pinkPill(ctx, px(c, 286.6), px(c, 295.8), py(c, vpocHigh), 'VPOC', '#dd74dd');
    pinkPill(ctx, px(c, 286.6), px(c, 295.8), py(c, vpocLow), 'VPOC', '#ff5eff');

    // correction channel
    polyline(ctx, c, channelTop, '#1a1aee', 2);
    polyline(ctx, c, channelBottom, '#1a1aee', 2);

    // arrows
    arrow(ctx, px(c, entryArrow[0][0]), py(c, entryArrow[0][1]), px(c, entryArrow[1][0]), py(c, entryArrow[1][1]), '#1616d8', 2, 13);
    arrow(ctx, px(c, shortMark[0][0]), py(c, shortMark[0][1]), px(c, shortMark[1][0]), py(c, shortMark[1][1]), '#ff1cff', 3, 7);
    arrow(ctx, px(c, exitMark[0][0]), py(c, exitMark[0][1]), px(c, exitMark[1][0]), py(c, exitMark[1][1]), '#1616e8', 3, 8);

    // dtReversal measurements
    polyline(ctx, c, reversal1, '#55705f', 1);
    polyline(ctx, c, reversal2, '#55705f', 1);
    infoBox(ctx, c, reversal1Box, reversal1Text);
    infoBox(ctx, c, reversal2Box, reversal2Text);

    // profile frames
    ctx.strokeStyle = '#c9982e';
    ctx.lineWidth = 1;
    const fx0 = Math.round(px(c, 27)) + 0.5, fy0 = Math.round(py(c, 6648.1)) + 0.5;
    ctx.strokeRect(fx0, fy0, Math.round(px(c, 90.1) - fx0), Math.round(py(c, 6572.6) - fy0));
    diamondMark(ctx, px(c, 26.9), py(c, 6650.1));
    closeBox(ctx, px(c, 91.3), py(c, 6649.6));
    const ex0 = Math.round(px(c, 218.2)) + 0.5, ey0 = Math.round(py(c, 6529.1)) + 0.5;
    ctx.strokeRect(ex0, ey0, Math.round(px(c, 221.2) - ex0), Math.round(py(c, 6502.1) - ey0));
    diamondMark(ctx, px(c, 217.9), py(c, 6531.3));
    closeBox(ctx, px(c, 222.4), py(c, 6530.8));

    // trade notes
    ctx.fillStyle = '#111';
    ctx.font = '14px ' + FONT;
    ctx.textAlign = 'left';
    ctx.textBaseline = 'middle';
    const nx = px(c, notesAnchor[0]), ny = py(c, notesAnchor[1]);
    notes.forEach((t, i) => ctx.fillText(t, nx, ny + i * 16.1));

    // cursor
    const cx = Math.round(px(c, cursorBar)) + 0.5;
    seg(ctx, cx, 0, cx, c.height - 1, '#3c4b4b', 1);

    // stat cells
    const sx = Math.round(px(c, 276.3)) + 0.5, sy = Math.round(py(c, vpocLow)) + 0.5;
    ctx.fillStyle = '#fffaf7';
    ctx.fillRect(sx, sy, 49, 67);
    ctx.fillStyle = '#e2dcd9';
    ctx.fillRect(sx, sy + 17, 24, 34);
    ctx.strokeStyle = '#000';
    ctx.strokeRect(sx, sy, 49, 67);
    ctx.beginPath();
    ctx.moveTo(sx, sy + 17); ctx.lineTo(sx + 49, sy + 17);
    ctx.moveTo(sx, sy + 34); ctx.lineTo(sx + 49, sy + 34);
    ctx.moveTo(sx, sy + 51); ctx.lineTo(sx + 49, sy + 51);
    ctx.moveTo(sx + 24, sy + 17); ctx.lineTo(sx + 24, sy + 51);
    ctx.stroke();
    ctx.fillStyle = '#000';
    ctx.font = '11px ' + FONT;
    ctx.textAlign = 'right';
    ctx.fillText(statValues[0], sx + 46, sy + 43);
    ctx.fillText(statValues[1], sx + 46, sy + 60);
    ctx.restore();
  },
  afterDraw(c) {
    const ctx = c.ctx;
    // cursor through the session strip
    const cx = Math.round(px(c, cursorBar)) + 0.5;
    seg(ctx, cx, c.chartArea.bottom, cx, c.height - 1, '#3c4b4b', 1);
    priceTags.forEach(v => axisTag(ctx, py(c, v), v.toFixed(2)));
    ctx.fillStyle = '#000';
    ctx.fillRect(1536, 0, 1, c.height);
  }
};

// ---- price panel ----
new Chart(document.getElementById('price'), {
  type: 'bar',
  data: {
    datasets: [
      {
        type: 'line', label: 'upper band',
        data: bandBars.map((k, i) => ({ x: k, y: bandPrices[i] })),
        borderColor: '#5b6b66', borderWidth: 1.3, borderDash: [1.5, 1.5],
        backgroundColor: 'rgba(185,172,165,0.19)', fill: 'end',
        pointRadius: 0, tension: 0, order: 10
      },
      {
        type: 'line', label: 'top band',
        data: topBandBars.map((k, i) => ({ x: k, y: topBandPrices[i] })),
        borderColor: '#e0559c', borderWidth: 1.3, borderDash: [1.5, 1],
        pointRadius: 0, fill: false, tension: 0, order: 9
      },
      {
        label: 'wicks',
        data: bars.map(k => ({ x: k, y: [lows[k], highs[k]] })),
        backgroundColor: '#111', barThickness: 1, grouped: false, order: 3
      },
      {
        label: 'bodies',
        data: bars.map(k => ({ x: k, y: [Math.min(opens[k], closes[k]), Math.max(opens[k], closes[k])] })),
        backgroundColor: bars.map(k => (closes[k] >= opens[k] ? UP : DOWN)),
        borderColor: '#000', borderWidth: 1, borderSkipped: false,
        barThickness: 4, minBarLength: 2, grouped: false, order: 2
      }
    ]
  },
  options: {
    responsive: false,
    animation: false,
    devicePixelRatio: 1,
    layout: { autoPadding: false, padding: { left: 0, right: 0, top: 0, bottom: 23 } },
    plugins: { legend: { display: false }, tooltip: { enabled: false } },
    scales: {
      x: { type: 'linear', min: X_MIN, max: X_MAX, display: false, offset: false, grid: { offset: false } },
      y: {
        type: 'linear', position: 'right', min: P_MIN, max: P_MAX,
        afterFit(s) { s.width = 62; s.paddingTop = 0; s.paddingBottom = 0; },
        border: { display: true, color: '#000', width: 1 },
        grid: { drawOnChartArea: false, drawTicks: true, tickLength: 4, color: '#000' },
        ticks: { stepSize: 20, includeBounds: false, padding: 5, callback: v => v.toFixed(2) }
      }
    }
  },
  plugins: [priceDecor]
});

// ---- oscillator panel decorations ----
const oscDecor = {
  id: 'oscDecor',
  beforeDraw(c) {
    const ctx = c.ctx;
    ctx.save();
    ctx.fillStyle = BG;
    ctx.fillRect(0, 0, c.width, c.height);
    // scrollbar and window bottom
    ctx.fillStyle = '#e5e5e5';
    ctx.fillRect(0, 247, 1536, 15);
    ctx.fillStyle = '#f1f1f1';
    ctx.fillRect(262, 248, 165, 13);
    ctx.strokeStyle = '#bdbdbd';
    ctx.strokeRect(262.5, 248.5, 165, 13);
    ctx.fillStyle = '#b8b8b8';
    ctx.fillRect(266, 251, 1, 8);
    ctx.fillRect(268, 251, 1, 8);
    ctx.fillStyle = '#000';
    ctx.beginPath();
    ctx.moveTo(1528, 251); ctx.lineTo(1532, 254.5); ctx.lineTo(1528, 258); ctx.closePath();
    ctx.fill();
    ctx.fillRect(0, 262, 1537, 1);
    ctx.fillStyle = '#e6e6e8';
    ctx.fillRect(0, 263, c.width, c.height - 263);
    ctx.restore();
  },
  beforeDatasetsDraw(c) {
    const ctx = c.ctx, a = c.chartArea;
    ctx.save();
    ctx.beginPath(); ctx.rect(a.left, a.top, a.right - a.left, a.bottom - a.top); ctx.clip();
    const yt = py(c, oscBandTop), yb = py(c, oscBandBottom);
    ctx.fillStyle = '#e7e0dc';
    ctx.fillRect(0, yt, px(c, RIGHT_EDGE), yb - yt);
    level(ctx, c, oscBandTop, 0, 226.8, '#8a8a8a', 1);
    level(ctx, c, oscBandBottom, 0, 226.8, '#8a8a8a', 1);
    level(ctx, c, oscTags[0], 0, 226.8, '#d4d0cd', 1);
    level(ctx, c, oscTags[5], 0, 226.8, '#d4d0cd', 1);
    // delta distribution
    const xr = px(c, RIGHT_EDGE);
    opLevels.forEach((v, i) => {
      const up = i > 0 ? (opLevels[i - 1] + v) / 2 : v + 1;
      const dn = i < opLevels.length - 1 ? (opLevels[i + 1] + v) / 2 : v - 1;
      const y0 = Math.round(py(c, up)) + 0.5, y1 = Math.round(py(c, dn)) + 0.5;
      const x0 = Math.round(px(c, RIGHT_EDGE - opWidths[i])) + 0.5;
      ctx.fillStyle = 'rgba(214,240,220,0.55)';
      ctx.fillRect(x0, y0, xr - x0, y1 - y0);
      ctx.strokeStyle = '#2f9b58';
      ctx.lineWidth = 1;
      ctx.strokeRect(x0, y0, xr - x0, Math.max(1, y1 - y0));
    });
    ctx.restore();
  },
  afterDatasetsDraw(c) {
    const ctx = c.ctx, a = c.chartArea;
    const cx = Math.round(px(c, cursorBar)) + 0.5;
    seg(ctx, cx, 0, cx, a.bottom, '#3c4b4b', 1);
  },
  afterDraw(c) {
    const ctx = c.ctx, a = c.chartArea;
    ctx.save();
    ctx.fillStyle = '#000';
    ctx.fillRect(0, 0, 1537, 1);
    ctx.fillRect(1536, 0, 1, 262);
    oscTags.forEach((v, i) => axisTag(ctx, py(c, v), oscTagLabels[i]));
    // current time box
    const tx = Math.round(px(c, 219.7)) + 0.5, ty = a.bottom + 8.5;
    ctx.fillStyle = '#d4d4d4';
    ctx.fillRect(tx, ty, 48, 19);
    ctx.strokeStyle = '#000';
    ctx.strokeRect(tx, ty, 48, 19);
    ctx.fillStyle = '#1a1a1a';
    ctx.font = '11px ' + FONT;
    ctx.textAlign = 'center';
    ctx.textBaseline = 'middle';
    ctx.fillText(lastTimeLabel, tx + 24, ty + 10);
    ctx.restore();
  }
};

// ---- oscillator panel ----
new Chart(document.getElementById('osc'), {
  type: 'bar',
  data: {
    datasets: [
      {
        type: 'line', label: 'swing dots',
        data: oscDotBars.map(k => ({ x: k, y: oscValues[k] })),
        showLine: false, pointRadius: 3.2, pointBorderWidth: 0,
        pointBackgroundColor: oscDotBars.map(k => (oscValues[k] >= 0 ? BLUE : RED)),
        order: 1
      },
      {
        label: 'delta',
        data: bars.map(k => ({ x: k, y: oscValues[k] })),
        backgroundColor: bars.map(k => (oscValues[k] >= 0 ? BLUE : RED)),
        barThickness: 2, grouped: false, order: 2
      }
    ]
  },
  options: {
    responsive: false,
    animation: false,
    devicePixelRatio: 1,
    layout: { autoPadding: false, padding: { left: 0, right: 0, top: 1, bottom: 47 } },
    plugins: { legend: { display: false }, tooltip: { enabled: false } },
    scales: {
      x: {
        type: 'linear', min: X_MIN, max: X_MAX, offset: false,
        afterFit(s) { s.height = 30; s.paddingLeft = 0; s.paddingRight = 0; },
        afterBuildTicks(s) { s.ticks = timeTickBars.map(v => ({ value: v })); },
        border: { display: true, color: '#000' },
        grid: { drawOnChartArea: false, drawTicks: true, tickLength: 5, color: '#000', offset: false },
        ticks: { autoSkip: false, maxRotation: 0, padding: 7, callback: (v, i) => timeLabels[i] }
      },
      y: {
        type: 'linear', position: 'right', min: O_MIN, max: O_MAX,
        afterFit(s) { s.width = 62; s.paddingTop = 0; s.paddingBottom = 0; },
        border: { display: true, color: '#000', width: 1 },
        grid: { drawOnChartArea: false, drawTicks: true, tickLength: 4, color: '#000' },
        ticks: { stepSize: 10, includeBounds: false, padding: 5, callback: v => String(v) }
      }
    }
  },
  plugins: [oscDecor]
});
</script>
</body>
</html>
